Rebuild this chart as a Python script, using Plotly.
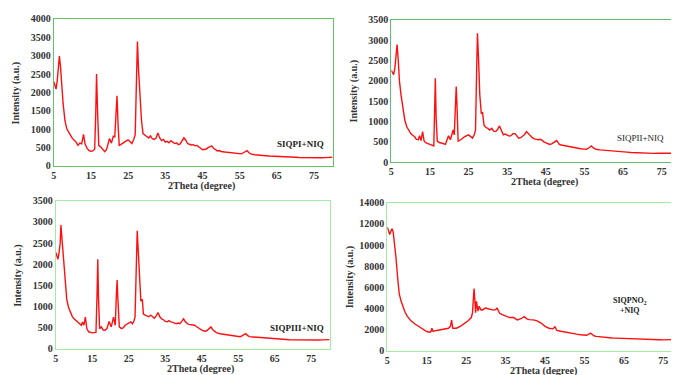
import plotly.graph_objects as go

W, H = 679, 375

# ---- data (2Theta in degree, intensity in a.u.) ----
x_siqpi = [
    5.0, 5.3, 5.6, 5.9, 6.2, 6.5, 6.8, 7.1, 7.5, 8.0,
    8.5, 9.0, 9.5, 10.0, 10.5, 11.0, 11.5, 12.0, 12.5, 13.0,
    13.4, 14.0, 14.5, 15.0, 15.5, 16.0, 16.3, 16.5, 16.8, 17.1,
    17.6, 18.0, 18.7, 19.2, 19.6, 20.0, 20.5, 21.0, 21.4, 21.8,
    22.0, 22.3, 22.6, 23.0, 23.5, 24.0, 24.5, 25.0, 25.5, 26.0,
    26.5, 26.9, 27.3, 27.5, 27.8, 28.2, 28.6, 29.0, 29.5, 30.0,
    30.5, 31.0, 31.5, 32.0, 32.5, 33.0, 33.5, 34.0, 34.5, 35.0,
    35.5, 36.0, 36.5, 37.0, 37.5, 38.0, 38.5, 39.0, 39.5, 40.0,
    40.5, 41.0, 41.5, 42.0, 42.5, 43.0, 43.5, 44.0, 44.5, 45.0,
    45.5, 46.0, 46.5, 47.0, 47.5, 48.0, 48.5, 49.0, 49.5, 50.0,
    51, 52, 53, 54, 55, 55.5, 56, 56.5, 57, 57.5,
    58, 59, 60, 61, 62, 63, 64, 65, 66, 67,
    68, 69, 70, 71, 72, 73, 74, 75, 76, 77,
    78, 79, 80,
]
y_siqpi = [
    2290, 2180, 2090, 2300, 2600, 2990, 2700, 2150, 1700, 1230,
    1010, 920, 820, 750, 700, 650, 560, 620, 600, 860,
    600, 470, 420, 400, 410, 460, 1500, 2500, 1400, 560,
    520, 470, 390, 450, 620, 750, 620, 810, 790, 1500,
    1910, 1100, 560, 580, 620, 640, 680, 710, 650, 610,
    720, 850, 2600, 3385, 2600, 1700, 1230, 880, 850, 800,
    760, 820, 740, 720, 760, 900, 760, 690, 720, 650,
    670, 630, 690, 660, 610, 630, 580, 600, 680, 765,
    700, 610, 590, 570, 580, 550, 560, 510, 480, 440,
    450, 460, 500, 530, 545, 480, 440, 410, 420, 395,
    380, 370, 355, 350, 335, 330, 360, 400, 420, 360,
    330, 305, 290, 285, 280, 270, 268, 264, 255, 250,
    245, 240, 237, 232, 228, 225, 220, 211, 218, 222,
    226, 230, 237,
]

x_siqpii = [
    5.0, 5.3, 5.6, 5.9, 6.2, 6.5, 6.8, 7.1, 7.5, 8.0,
    8.5, 9.0, 9.5, 10.0, 10.5, 11.0, 11.5, 12.0, 12.3, 12.7,
    13.1, 13.5, 14.0, 14.5, 15.0, 15.5, 16.0, 16.2, 16.4, 16.6,
    16.9, 17.5, 18.0, 19.0, 19.8, 20.3, 21.0, 21.3, 21.6, 21.8,
    22.0, 22.3, 23.0, 24.0, 25.0, 26.0, 26.5, 26.8, 27.1, 27.3,
    27.6, 27.9, 28.3, 28.6, 29.0, 29.5, 30.0, 30.5, 31.0, 31.5,
    32.0, 32.5, 33.0, 33.5, 34.0, 34.5, 35.0, 35.5, 36.0, 36.5,
    37.0, 37.5, 38.0, 38.5, 39.0, 39.5, 40.0, 40.5, 41.0, 41.5,
    42.0, 42.5, 43.0, 43.5, 44.0, 44.5, 45.0, 45.5, 46.0, 46.5,
    47.0, 47.5, 47.8, 48.2, 48.5, 49.0, 49.5, 50.0, 51, 52,
    53, 54, 55, 55.5, 56, 56.5, 56.8, 57.3, 58, 59,
    60, 61, 62, 63, 64, 65, 66, 67, 68, 69,
    70, 71, 72, 73, 74, 75, 76, 77, 78, 79,
    80,
]
y_siqpii = [
    2260, 2200, 2150, 2300, 2600, 2890, 2500, 2000, 1660, 1270,
    1030, 870, 780, 710, 660, 630, 560, 550, 650, 530,
    750, 515, 475, 450, 435, 420, 400, 1200, 2060, 1100,
    515, 475, 470, 435, 650, 550, 790, 670, 1400, 1860,
    1400, 515, 550, 630, 670, 590, 680, 790, 2300, 3170,
    2500, 1660, 1190, 1230, 910, 850, 830, 790, 830, 760,
    750, 800, 890, 760, 670, 690, 670, 640, 650, 700,
    700, 640, 590, 600, 630, 680, 750, 700, 630, 600,
    570, 560, 550, 560, 540, 500, 475, 450, 435, 450,
    475, 510, 530, 480, 435, 420, 410, 400, 380, 355,
    345, 330, 320, 315, 340, 380, 400, 350, 315, 300,
    290, 285, 275, 265, 258, 250, 245, 238, 232, 226,
    220, 222, 216, 214, 218, 215, 212, 218, 214, 220,
    220,
]

x_siqpiii = [
    5.0, 5.3, 5.6, 5.9, 6.2, 6.4, 6.6, 6.8, 7.2, 7.6,
    8.0, 8.5, 9.0, 9.5, 10.0, 10.5, 11.0, 11.5, 12.0, 12.3,
    12.7, 13.1, 13.5, 14.0, 14.5, 15.0, 15.5, 16.0, 16.3, 16.5,
    16.7, 17.0, 17.5, 18.0, 18.5, 19.0, 19.6, 20.2, 20.8, 21.3,
    21.6, 21.8, 22.0, 22.4, 23.0, 23.5, 24.0, 24.5, 25.0, 25.5,
    26.0, 26.4, 26.7, 27.0, 27.3, 27.6, 27.9, 28.3, 28.7, 29.0,
    29.5, 30.0, 30.5, 31.0, 31.5, 32.0, 32.5, 33.0, 33.5, 34.0,
    34.5, 35.0, 35.5, 36.0, 36.5, 37.0, 37.5, 38.0, 38.5, 39.0,
    39.5, 40.0, 40.5, 41.0, 41.5, 42.0, 42.5, 43.0, 43.5, 44.0,
    44.5, 45.0, 45.5, 46.0, 46.5, 47.0, 47.5, 48.0, 48.5, 49.0,
    50, 51, 52, 53, 54, 55, 55.5, 56, 56.5, 57,
    57.5, 58, 59, 60, 61, 62, 63, 64, 65, 66,
    67, 68, 69, 70, 71, 72, 73, 74, 75, 76,
    77, 78, 79, 80,
]
y_siqpiii = [
    2280, 2180, 2120, 2280, 2500, 2925, 2700, 2390, 1860, 1400,
    1170, 980, 860, 770, 710, 670, 635, 590, 560, 635,
    560, 750, 480, 405, 390, 380, 385, 390, 1300, 2120,
    1200, 480, 520, 445, 440, 480, 650, 520, 750, 560,
    1300, 1630, 1200, 520, 480, 500, 560, 590, 620, 640,
    595, 660, 750, 1800, 2790, 2300, 1630, 1130, 1170, 825,
    800, 785, 760, 800, 750, 725, 780, 860, 760, 710,
    690, 650, 640, 670, 640, 635, 610, 595, 610, 595,
    650, 710, 640, 595, 580, 575, 570, 560, 530, 495,
    470, 445, 430, 420, 440, 470, 520, 450, 405, 385,
    360, 345, 330, 320, 315, 300, 290, 310, 340, 360,
    320, 290, 282, 275, 262, 250, 245, 240, 235, 228,
    225, 220, 218, 215, 212, 210, 208, 206, 205, 208,
    210, 214, 216, 220,
]

x_siqpno2 = [
    5.0, 5.3, 5.6, 5.9, 6.2, 6.5, 6.8, 7.2, 7.6, 8.0,
    8.5, 9.0, 9.5, 10.0, 11.0, 12.0, 13.0, 14.0, 15.0, 15.8,
    16.1, 16.3, 16.6, 17.5, 18.5, 19.5, 20.5, 21.0, 21.3, 21.6,
    22.5, 23.5, 24.5, 25.5, 26.3, 26.6, 26.8, 27.0, 27.2, 27.4,
    27.6, 28.0, 28.3, 28.7, 29.0, 29.5, 30.0, 30.5, 31.0, 31.5,
    32.0, 32.5, 32.8, 33.2, 33.5, 34.0, 35.0, 36.0, 37.0, 38.0,
    39.0, 39.7, 40.5, 41.0, 42.0, 43.0, 44.0, 45.0, 46.0, 47.0,
    47.5, 48.0, 49.0, 50.0, 51, 52, 53, 54, 55, 55.5,
    56.0, 56.5, 57.0, 57.5, 58, 59, 60, 61, 62, 63,
    64, 65, 66, 67, 68, 69, 70, 71, 72, 73,
    74, 75, 76, 77, 78, 79, 80,
]
y_siqpno2 = [
    11700, 11300, 11000, 11300, 11550, 11200, 10330, 8800, 6970, 5440,
    4680, 4070, 3650, 3300, 2840, 2540, 2290, 2080, 1830, 1770,
    1850, 2140, 1830, 1930, 2020, 2080, 2140, 2320, 2900, 2140,
    2140, 2320, 2540, 2840, 3150, 3600, 4800, 5900, 4800, 3600,
    4680, 3760, 4220, 3900, 3850, 3950, 4070, 3980, 3970, 3900,
    3850, 3900, 4070, 3800, 3550, 3450, 3300, 3150, 3150, 2930,
    3060, 3240, 3000, 2950, 2930, 2840, 2630, 2320, 2140, 2080,
    2290, 1930, 1850, 1770, 1700, 1620, 1580, 1530, 1500, 1470,
    1550, 1680, 1550, 1400, 1370, 1320, 1280, 1250, 1220, 1200,
    1180, 1160, 1150, 1130, 1120, 1110, 1100, 1090, 1080, 1060,
    1050, 1040, 1060, 1080, 1090, 1100, 1100,
]

x_ticks = [5, 15, 25, 35, 45, 55, 65, 75]
y_max = [4000, 3500, 3500, 14000]
y_step = [500, 500, 500, 2000]
sample_labels = ["SIQPI+NIQ", "SIQPII+NIQ", "SIQPIII+NIQ", "SIQPNO<sub>2</sub><br>+NIQ"]
# label anchor in data coordinates of each panel
label_pos = [(71.5, 600), (69.5, 600), (71.0, 500), (66.5, 4250)]

# ---- layout (pixel boxes of each plot area: left, right, top, bottom) ----
boxes = [(43, 323, 5, 157), (382, 673, 6, 153), (45, 320, 193, 346), (378, 675, 195, 348)]
frame_colors = ["#62c462", "#5cc070", "#a4eca4", "#a4eca4"]
SERIF = "Liberation Serif, Times New Roman, serif"


def px(x):
    return x / W


def py(y):
    return 1 - y / H


fig = go.Figure()
series = [(x_siqpi, y_siqpi), (x_siqpii, y_siqpii), (x_siqpiii, y_siqpiii), (x_siqpno2, y_siqpno2)]
annotations = []
for i, (xs, ys) in enumerate(series):
    n = "" if i == 0 else str(i + 1)
    left, right, top, bottom = boxes[i]
    fig.add_trace(go.Scatter(
        x=xs, y=ys, mode="lines", xaxis="x" + n, yaxis="y" + n,
        line=dict(color="#ff1010", width=1.4), showlegend=False,
    ))
    common = dict(
        showline=True, mirror=True, linecolor=frame_colors[i], linewidth=1.2,
        showgrid=False, zeroline=False, ticks="",
        tickfont=dict(family=SERIF, size=10, color="#333333", weight="bold"),
    )
    fig.layout["xaxis" + n] = dict(
        domain=[px(left), px(right)], range=[5, 80], anchor="y" + n,
        tickvals=x_ticks, **common,
    )
    fig.layout["yaxis" + n] = dict(
        domain=[py(bottom), py(top)], range=[0, y_max[i]], anchor="x" + n,
        dtick=y_step[i], tickformat="d", **common,
    )
    # axis titles
    annotations.append(dict(
        text="<b>2Theta (degree)</b>", xref="paper", yref="paper",
        x=px((left + right) / 2 + 8), y=py(bottom + 21),
        xanchor="center", yanchor="middle", showarrow=False,
        font=dict(family=SERIF, size=10, color="#333333"),
    ))
    annotations.append(dict(
        text="<b>Intensity (a.u.)</b>", xref="paper", yref="paper", textangle=-90,
        x=px(left - 38), y=py((top + bottom) / 2),
        xanchor="center", yanchor="middle", showarrow=False,
        font=dict(family=SERIF, size=10, color="#333333"),
    ))
    lx, ly = label_pos[i]
    weight = "<b>%s</b>" if i != 1 else "%s"
    annotations.append(dict(
        text=weight % sample_labels[i], xref="x" + n, yref="y" + n,
        x=lx, y=ly, xanchor="center", yanchor="middle", showarrow=False,
        font=dict(family=SERIF, size=8 if i == 3 else 9, color="#222222"),
    ))

fig.update_layout(
    width=W, height=H, margin=dict(l=0, r=0, t=0, b=0),
    paper_bgcolor="white", plot_bgcolor="white",
    annotations=annotations,
)
fig.write_html("out.html")
